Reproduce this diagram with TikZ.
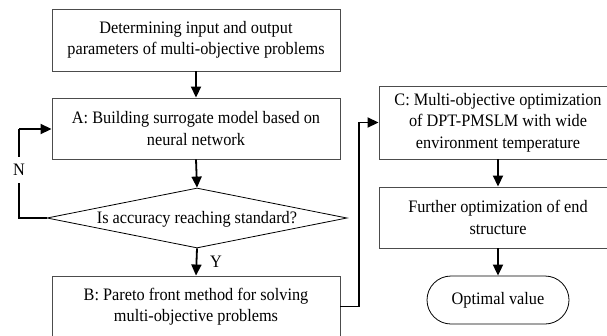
\documentclass[tikz,border=0pt]{standalone}
\usepackage{fontspec}
\setmainfont[FakeStretch=0.93]{Liberation Serif}
\usetikzlibrary{arrows.meta,shapes.geometric}
\begin{document}
\begin{tikzpicture}[x=1pt,y=-1pt,
  every node/.style={font=\fontsize{17.5}{21.5}\selectfont, align=center},
  procbox/.style={draw=black!70, line width=0.9pt, inner sep=0pt, rectangle},
  decision/.style={draw=black, line width=0.8pt, diamond, aspect=5, inner sep=0pt,
    minimum width=300pt, minimum height=60pt},
  terminal/.style={draw=black, line width=0.8pt, rounded corners=24pt, inner sep=0pt,
    minimum width=142pt, minimum height=48pt},
  arr/.style={draw=black, line width=1.8pt, -{Triangle[length=11pt,width=10pt]}},
  link/.style={draw=black, line width=1.8pt}]
\useasboundingbox (0,0) rectangle (607,335);
\clip (0,0) rectangle (607,335);

% left column
\node[procbox, minimum width=288pt, minimum height=62pt] (top) at (196,40)
  {Determining input and output\\parameters of multi-objective problems};
\node[procbox, minimum width=288pt, minimum height=61pt] (A) at (196,128.5)
  {A: Building surrogate model based on\\neural network};
\node[decision] (d) at (197,218) {};
\node (dtext) at (197,219) {Is accuracy reaching standard?};
\node[procbox, minimum width=288pt, minimum height=61pt] (B) at (196,306.5)
  {B: Pareto front method for solving\\multi-objective problems};

% right column
\node[procbox, minimum width=238pt, minimum height=73pt] (C) at (498,122.5)
  {C: Multi-objective optimization\\of DPT-PMSLM with wide\\environment temperature};
\node[procbox, minimum width=238pt, minimum height=61pt] (F) at (498,217.5)
  {Further optimization of end\\structure};
\node[terminal] (opt) at (498,300) {Optimal value};

% connectors
\draw[arr] (top.south) -- (A.north);
\draw[arr] (A.south) -- (d.north);
\draw[arr] (d.south) -- (B.north);
\node (ylab) at (216,262) {Y};

\coordinate (loopb) at (19,218);
\coordinate (loopt) at (19,129);
\draw[link] (d.west) -- (loopb) -- (loopt);
\draw[arr] (loopt) -- (A.west |- loopt);
\node[fill=white, inner sep=1pt, minimum height=26pt] (nlab) at (19,170) {N};

\coordinate (bturn) at (359,306.5);
\draw[link] (B.east) -- (bturn);
\draw[arr] (bturn) |- (C.west);
\draw[arr] (C.south) -- (F.north);
\draw[arr] (F.south) -- (opt.north);
\end{tikzpicture}
\end{document}
